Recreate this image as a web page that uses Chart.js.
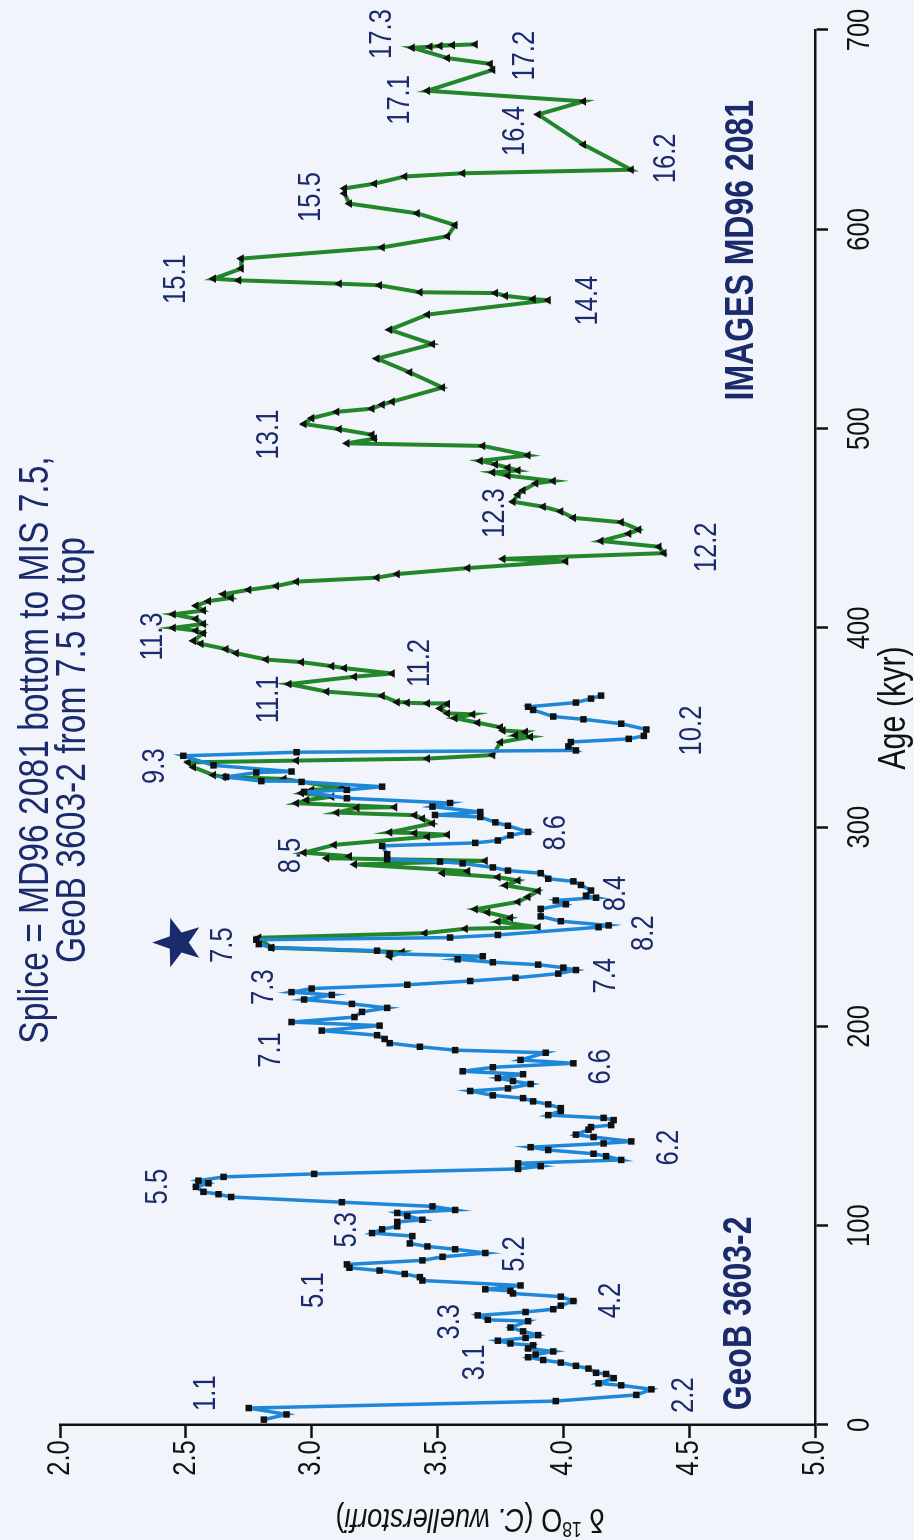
<!DOCTYPE html>
<html>
<head>
<meta charset="utf-8">
<title>Splice d18O record</title>
<script src="https://cdn.jsdelivr.net/npm/chart.js@4.4.1/dist/chart.umd.min.js"></script>
<style>
  html, body { margin: 0; padding: 0; background: #f1f4fa; overflow: hidden; }
  /* chart is drawn landscape and turned a quarter turn to fit the portrait page */
  #wrap { position: absolute; left: 0; top: 0; width: 1540px; height: 914px;
          transform-origin: 0 0; transform: translate(0, 1540px) rotate(-90deg); }
</style>
</head>
<body>
<div id="wrap"><canvas id="splice" width="1540" height="914"></canvas></div>
<script>
// --------------------
// Data
// --------------------
const geobAge = [2.7,5.3,8.5,12.0,15.1,17.9,19.9,20.9,23.5,25.6,26.2,28.3,29.7,31.3,32.6,34.0,35.4,36.9,38.4,40.0,
  40.9,42.3,43.7,45.1,47.0,48.9,52.1,52.8,55.0,56.7,58.1,59.9,62.2,64.4,66.0,67.3,68.1,70.0,72.5,74.2,
  75.8,77.5,78.9,80.6,82.6,84.4,86.3,88.2,89.6,91.1,94.8,96.3,98.2,99.7,101.9,103.0,104.9,106.4,107.9,109.7,
  111.8,114.4,115.8,117.0,
  119.5,121.3,122.6,124.5,126.0,128.5,129.9,131.3,133.0,134.9,136.1,138.0,139.4,141.3,142.3,144.5,145.7,148.2,149.5,150.5,
  153.0,154.1,155.5,157.6,159.0,160.9,162.4,164.0,165.4,167.6,168.9,171.1,172.6,174.1,176.0,177.5,179.5,181.5,183.2,186.8,
  188.1,189.8,191.6,193.7,195.6,197.9,200.4,202.2,204.7,207.3,209.3,211.3,213.5,215.8,217.2,219.0,220.9,222.8,224.4,226.5,
  228.3,229.5,231.0,
  232.2,233.7,235.2,236.5,238.0,239.5,241.3,243.5,244.6,245.9,249.8,250.7,252.8,255.2,259.0,261.3,263.2,264.6,265.6,268.2,
  271.0,272.8,274.1,276.9,278.2,279.8,281.8,282.7,283.9,286.4,290.6,292.1,293.3,295.9,297.6,300.7,302.4,305.1,306.1,307.6,
  310.3,312.1,314.5,317.7,318.7,320.3,322.7,323.1,325.2,327.4,327.9,331.0,335.8,337.6,338.5,340.5,342.7,344.3,345.8,349.0,
  351.9,354.1,355.5,358.8,360.4,362.5,364.5,366.0];
const geobD18O = [2.81,2.90,2.75,3.97,4.29,4.35,4.23,4.14,4.20,4.17,4.13,4.10,4.05,3.99,3.92,3.86,3.89,3.96,3.86,3.88,
  3.79,3.74,3.85,3.90,3.84,3.79,3.86,3.70,3.66,3.85,3.96,3.99,4.04,3.99,3.80,3.79,3.69,3.83,3.44,3.43,
  3.37,3.27,3.15,3.14,3.44,3.52,3.69,3.57,3.46,3.39,3.40,3.24,3.28,3.34,3.34,3.44,3.38,3.34,3.57,3.48,
  3.12,2.68,2.63,2.57,
  2.54,2.59,2.55,2.65,3.01,3.82,3.91,3.82,4.23,4.17,4.12,3.94,3.87,4.16,4.27,4.12,4.05,4.10,4.11,4.19,
  4.20,4.16,3.94,3.99,3.99,3.94,3.88,3.84,3.72,3.63,3.78,3.87,3.80,3.74,3.84,3.60,3.72,4.04,3.83,3.93,
  3.57,3.43,3.31,3.29,3.26,3.04,3.27,2.92,3.17,3.20,3.30,3.16,2.97,3.08,2.92,3.00,3.38,3.63,3.81,3.98,
  4.05,4.00,3.90,
  3.72,3.58,3.68,3.31,3.26,2.84,2.79,2.78,3.55,3.74,4.14,4.18,3.99,3.91,3.91,4.01,3.97,4.13,4.09,4.11,
  4.07,4.04,3.94,3.91,3.78,3.72,3.60,3.51,3.30,3.30,3.28,3.65,3.74,3.79,3.86,3.78,3.73,3.67,3.49,3.67,
  3.48,3.55,3.14,2.97,3.14,3.28,2.96,2.80,2.66,2.78,2.92,2.61,2.49,2.94,4.05,4.02,4.03,4.26,4.32,4.33,
  4.23,4.08,3.96,3.88,3.86,4.05,4.11,4.15];

const mdAge = [235.1,237.3,239.5,244.5,246.8,249.0,249.8,252.6,254.5,257.2,258.8,262.5,265.0,268.0,270.8,273.2,274.9,276.9,277.9,281.3,
  283.1,284.4,285.4,287.2,291.1,295.2,296.2,297.0,297.4,301.9,304.3,306.0,307.3,309.7,310.0,312.0,313.6,315.3,317.1,318.7,
  319.5,324.2,325.2,326.1,330.1,332.5,333.4,334.4,336.2,
  342.6,345.3,346.1,347.8,348.5,350.1,352.4,354.7,356.6,357.1,359.6,361.8,362.1,362.4,362.7,365.9,368.0,371.8,375.5,377.1,
  379.8,380.8,382.8,384.1,387.3,389.3,392.0,393.5,397.3,398.6,400.0,402.0,404.5,406.8,408.7,411.1,413.4,415.0,416.9,419.1,
  421.0,423.2,425.2,427.0,430.0,433.4,434.6,437.5,440.7,443.6,447.3,449.3,453.0,455.2,458.4,460.8,463.3,466.8,469.0,472.5,
  473.7,476.4,478.0,479.0,480.4,482.0,483.8,486.6,491.3,492.6,495.0,496.9,499.7,502.3,505.2,508.4,510.0,512.0,513.5,520.6,
  528.2,535.1,542.4,549.6,557.2,564.4,565.0,566.6,568.0,568.4,571.9,572.7,574.4,575.2,580.3,585.3,590.9,596.5,602.1,608.0,
  612.9,618.0,620.5,622.9,626.5,628.1,629.9,642.5,657.6,664.2,669.5,680.0,683.0,685.9,691.1,691.6,692.0,692.4,692.8];
const mdD18O = [3.31,3.36,2.84,2.79,3.45,3.61,3.90,3.74,3.79,3.70,3.65,3.82,3.86,3.90,3.77,3.82,3.74,3.52,3.62,3.17,
  3.69,3.06,3.15,2.97,3.09,3.46,3.54,3.41,3.31,3.48,3.44,3.41,3.10,3.18,3.33,2.94,2.98,3.08,2.96,3.00,
  3.12,2.89,2.65,2.61,2.53,2.51,2.94,3.46,3.72,
  3.75,3.87,3.81,3.85,3.76,3.75,3.66,3.57,3.64,3.54,3.51,3.54,3.46,3.38,3.34,3.28,3.06,2.91,3.17,3.32,
  3.13,3.08,2.96,2.82,2.70,2.66,2.56,2.53,2.57,2.54,2.45,2.57,2.54,2.45,2.57,2.54,2.59,2.68,2.65,2.75,
  2.86,2.94,3.26,3.34,3.62,4.01,3.76,4.40,4.38,4.15,4.26,4.30,4.23,4.04,3.99,3.92,3.80,3.82,3.84,3.89,
  3.96,3.78,3.72,3.82,3.78,3.73,3.67,3.86,3.68,3.14,3.25,3.24,3.11,2.97,3.00,3.10,3.24,3.28,3.32,3.52,
  3.39,3.26,3.48,3.31,3.46,3.94,3.88,3.77,3.73,3.43,3.27,3.11,2.71,2.61,2.72,2.72,3.28,3.54,3.57,3.42,
  3.15,3.13,3.13,3.25,3.37,3.60,4.27,4.08,3.90,4.08,3.46,3.72,3.71,3.54,3.40,3.47,3.51,3.56,3.65];

const ageTicks = [0, 100, 200, 300, 400, 500, 600, 700];
const d18OTicks = [2.0, 2.5, 3.0, 3.5, 4.0, 4.5, 5.0];

// marine isotope stage labels, anchored at (age, d18O)
const misText = ['1.1','2.2','3.1','3.3','4.2','5.1','5.2','5.3','5.5','6.2','6.6','7.1','7.3','7.4','7.5','8.2','8.4','8.5',
  '8.6','9.3','10.2','11.1','11.2','11.3','12.2','12.3','13.1','14.4','15.1','15.5','16.2','16.4','17.1','17.2','17.3'];
const misAge = [16.0,15.0,31.4,51.8,62.5,67.7,85.8,98.0,119.6,139.2,179.8,188.2,219.7,225.4,240.8,246.8,266.7,285.8,
  297.2,330.6,348.5,364.1,382.4,395.7,440.4,457.6,497.0,564.2,575.0,616.2,635.6,649.3,664.9,687.1,698.0];
const misD18O = [2.58,4.48,3.65,3.55,4.19,3.01,3.81,3.14,2.39,4.42,4.15,2.84,2.81,4.17,2.65,4.32,4.21,2.92,
  3.97,2.38,4.51,2.83,3.43,2.37,4.57,3.73,2.83,4.10,2.46,3.00,4.41,3.81,3.35,3.85,3.28];

const coreNames = ['GeoB 3603-2', 'IMAGES MD96 2081'];
const coreNameAge = [56.0, 589.5];
const coreNameD18O = [4.70, 4.71];

const spliceAge = 242.1;
const spliceD18O = 2.47;

const titleLines = ['Splice = MD96 2081 bottom to MIS 7.5,', 'GeoB 3603-2 from 7.5 to top'];

// --------------------
// Text helpers
// --------------------
const NAVY = '#1b2a6b';
const FONT = "'Liberation Sans', Arial, sans-serif";
const SQUEEZE = 0.8; // lettering in the figure is narrow

function squeezedText(ctx, text, x, y, size, opt = {}) {
    ctx.save();
    ctx.translate(x, y);
    if (opt.rotate) ctx.rotate(opt.rotate);
    ctx.scale(SQUEEZE, 1);
    ctx.font = `${opt.weight || 'normal'} ${size}px ${FONT}`;
    ctx.fillStyle = opt.color || '#111';
    ctx.textAlign = 'center';
    ctx.textBaseline = 'middle';
    ctx.fillText(text, 0, 0);
    ctx.restore();
}

function drawYTitle(ctx, x, y) {
    const parts = [
        { t: 'δ ', size: 34 },
        { t: '18', size: 22, dy: -10 },
        { t: 'O (', size: 34 },
        { t: 'C. wuellerstorfi', size: 34, style: 'italic' },
        { t: ')', size: 34 }
    ];
    ctx.save();
    ctx.translate(x, y);
    ctx.rotate(-Math.PI / 2);
    ctx.scale(SQUEEZE, 1);
    ctx.fillStyle = '#111';
    ctx.textBaseline = 'middle';
    ctx.textAlign = 'left';
    let total = 0;
    parts.forEach(p => {
        ctx.font = `${p.style || 'normal'} ${p.size}px ${FONT}`;
        p.w = ctx.measureText(p.t).width;
        total += p.w;
    });
    let cx = -total / 2;
    parts.forEach(p => {
        ctx.font = `${p.style || 'normal'} ${p.size}px ${FONT}`;
        ctx.fillText(p.t, cx, p.dy || 0);
        cx += p.w;
    });
    ctx.restore();
}

function drawStar(ctx, cx, cy, outer, inner) {
    ctx.save();
    ctx.fillStyle = NAVY;
    ctx.beginPath();
    for (let i = 0; i < 10; i++) {
        const a = -Math.PI / 2 + i * Math.PI / 5;
        const r = i % 2 === 0 ? outer : inner;
        ctx.lineTo(cx + r * Math.cos(a), cy + r * Math.sin(a));
    }
    ctx.closePath();
    ctx.fill();
    ctx.restore();
}

const textPlugin = {
    id: 'figureText',
    afterDraw(chart) {
        const ctx = chart.ctx;
        const xs = chart.scales.x, ys = chart.scales.y;

        // tick labels
        ageTicks.forEach(v => squeezedText(ctx, String(v), xs.getPixelForValue(v), 860, 32));
        d18OTicks.forEach(v => squeezedText(ctx, v.toFixed(1), 82, ys.getPixelForValue(v), 32));

        // axis titles
        squeezedText(ctx, 'Age (kyr)', 832, 895, 38);
        drawYTitle(ctx, 22, 470);

        // stage labels
        misText.forEach((t, i) => squeezedText(ctx, t,
            xs.getPixelForValue(misAge[i]), ys.getPixelForValue(misD18O[i]), 32, { color: NAVY }));

        // core names
        coreNames.forEach((t, i) => squeezedText(ctx, t,
            xs.getPixelForValue(coreNameAge[i]), ys.getPixelForValue(coreNameD18O[i]), 40,
            { color: NAVY, weight: 'bold' }));

        // splice point
        drawStar(ctx, xs.getPixelForValue(spliceAge), ys.getPixelForValue(spliceD18O), 26, 10.5);

        // title
        squeezedText(ctx, titleLines[0], 790, 36, 42, { color: NAVY });
        squeezedText(ctx, titleLines[1], 790, 73, 42, { color: NAVY });
    }
};

// --------------------
// Chart
// --------------------
function toPoints(xv, yv) {
    return xv.map((x, i) => ({ x: x, y: yv[i] }));
}

const axisGrid = { display: true, drawOnChartArea: false, drawTicks: true, tickLength: 13, tickColor: '#111', tickWidth: 2.5 };
const axisBorder = { display: true, color: '#111', width: 2.5 };

new Chart(document.getElementById('splice'), {
    type: 'scatter',
    data: {
        datasets: [
            {
                label: 'GeoB 3603-2',
                data: toPoints(geobAge, geobD18O),
                showLine: true,
                borderColor: '#1f87d8',
                borderWidth: 3.5,
                pointStyle: 'rect',
                pointRadius: 4.6,
                pointBackgroundColor: '#111',
                pointBorderColor: '#111',
                pointBorderWidth: 0
            },
            {
                label: 'IMAGES MD96 2081',
                data: toPoints(mdAge, mdD18O),
                showLine: true,
                borderColor: '#23862b',
                borderWidth: 4,
                pointStyle: 'triangle',
                pointRadius: 5,
                pointBackgroundColor: '#111',
                pointBorderColor: '#111',
                pointBorderWidth: 0
            }
        ]
    },
    options: {
        responsive: false,
        animation: false,
        devicePixelRatio: 1,
        events: [],
        layout: { padding: { left: 0, right: 30, top: 60, bottom: 0 } },
        plugins: { legend: { display: false }, tooltip: { enabled: false } },
        scales: {
            x: {
                type: 'linear', min: 0, max: 700,
                afterBuildTicks: s => { s.ticks = ageTicks.map(v => ({ value: v })); },
                ticks: { display: false },
                grid: axisGrid,
                border: axisBorder,
                afterFit: s => { s.height = 99; }
            },
            y: {
                type: 'linear', reverse: true, min: 2, max: 5,
                afterBuildTicks: s => { s.ticks = d18OTicks.map(v => ({ value: v })); },
                ticks: { display: false },
                grid: axisGrid,
                border: axisBorder,
                afterFit: s => { s.width = 115; }
            }
        }
    },
    plugins: [textPlugin]
});
</script>
</body>
</html>
